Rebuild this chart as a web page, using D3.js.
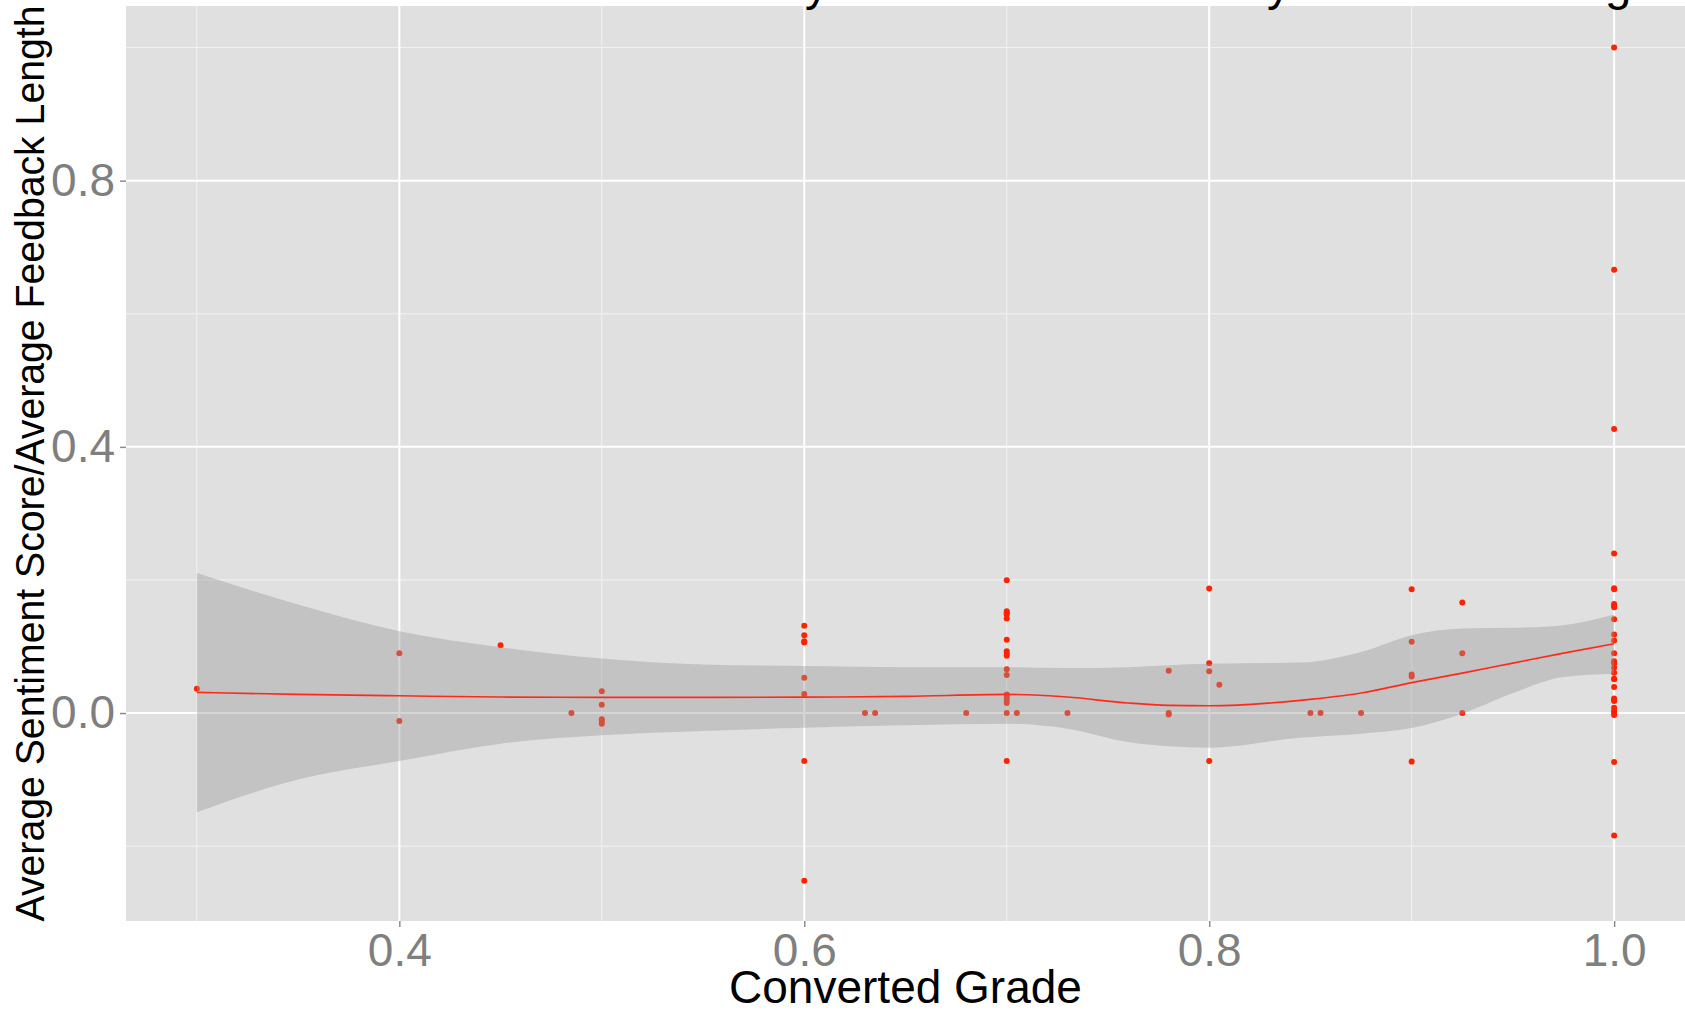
<!DOCTYPE html>
<html>
<head>
<meta charset="utf-8">
<script src="https://cdnjs.cloudflare.com/ajax/libs/d3/7.8.5/d3.min.js"></script>
<style>
  body { margin: 0; background: #fff; }
  text { font-family: "Liberation Sans", Arial, Helvetica, sans-serif; }
</style>
</head>
<body>
<div id="chart"></div>
<script>
// points: converted grade vs average sentiment score / average feedback length
const gradeX = [
  0.3,
  0.4, 0.4,
  0.45, 0.485,
  0.5, 0.5, 0.5, 0.5, 0.5,
  0.6, 0.6, 0.6, 0.6, 0.6, 0.6, 0.6, 0.6,
  0.63, 0.635, 0.68,
  0.7, 0.7, 0.7, 0.7, 0.7, 0.7, 0.7, 0.7, 0.7, 0.7, 0.7, 0.7, 0.7, 0.7, 0.7, 0.7, 0.7,
  0.705, 0.73,
  0.78, 0.78, 0.78,
  0.8, 0.8, 0.8, 0.8, 0.805,
  0.85, 0.855, 0.875,
  0.9, 0.9, 0.9, 0.9, 0.9,
  0.925, 0.925, 0.925,
  1.0, 1.0, 1.0, 1.0, 1.0, 1.0, 1.0, 1.0, 1.0, 1.0, 1.0, 1.0, 1.0, 1.0, 1.0,
  1.0, 1.0, 1.0, 1.0, 1.0, 1.0, 1.0, 1.0, 1.0, 1.0, 1.0, 1.0, 1.0, 1.0
];
const scoreY = [
  0.0366,
  0.090, -0.012,
  0.102, 0,
  0.0326, 0.0126, -0.0095, -0.012, -0.016,
  0.131, 0.117, 0.108, 0.106, 0.053, 0.0286, -0.072, -0.252,
  0, 0, 0,
  0.1995, 0.153, 0.150, 0.148, 0.142, 0.110, 0.093, 0.089, 0.086, 0.066, 0.057, 0.028, 0.024, 0.020, 0.015, 0, -0.072,
  0, 0,
  0.0637, 0, -0.002,
  0.187, 0.075, 0.0627, -0.072, 0.0427,
  0, 0, 0,
  0.186, 0.107, 0.058, 0.055, -0.073,
  0.166, 0.0898, 0,
  1.0, 0.666, 0.427, 0.2396, 0.1875, 0.186, 0.164, 0.162, 0.159, 0.141, 0.118, 0.109, 0.0897, 0.078, 0.0747,
  0.068, 0.0606, 0.0516, 0.0506, 0.039, 0.022, 0.0195, 0.018, 0.008, 0.003, 0, -0.003, -0.0737, -0.184
];

// loess fit with confidence band
const smoothX = [0.3, 0.35, 0.4, 0.45, 0.5, 0.55, 0.6, 0.65, 0.7, 0.73, 0.76, 0.78, 0.8, 0.845, 0.875, 0.9, 0.925, 0.95, 0.975, 1.0];
const smoothFit = [0.031, 0.028, 0.026, 0.024, 0.0236, 0.0236, 0.024, 0.025, 0.028, 0.024, 0.015, 0.0116, 0.011, 0.019, 0.030, 0.0457, 0.060, 0.075, 0.090, 0.104];
const smoothHi = [0.2105, 0.163, 0.123, 0.099, 0.082, 0.073, 0.0707, 0.069, 0.069, 0.0677, 0.069, 0.072, 0.074, 0.0758, 0.0917, 0.117, 0.127, 0.128, 0.132, 0.148];
const smoothLo = [-0.149, -0.100, -0.072, -0.046, -0.0335, -0.027, -0.022, -0.0185, -0.016, -0.0235, -0.0436, -0.050, -0.052, -0.037, -0.031, -0.0225, -0.001, 0.030, 0.054, 0.059];

const xMajor = [0.4, 0.6, 0.8, 1.0];
const xMinor = [0.3, 0.5, 0.7, 0.9];
const yMajor = [0.0, 0.4, 0.8];
const yMinor = [-0.2, 0.2, 0.6, 1.0];

const title = "Mean Sentiment Score by Grade Normalized by Feedback Length";
const xTitle = "Converted Grade";
const yTitle = "Average Sentiment Score/Average Feedback Length";

const W = 1685, H = 1017;
const panel = { left: 126, right: 1685, top: 6, bottom: 921 };

const svg = d3.select("#chart").append("svg")
    .attr("width", W)
    .attr("height", H);

const x = d3.scaleLinear().domain([0.265, 1.035]).range([panel.left, panel.right]);
const y = d3.scaleLinear().domain([-0.3125, 1.0625]).range([panel.bottom, panel.top]);

svg.append("rect")
    .attr("x", panel.left).attr("y", panel.top)
    .attr("width", panel.right - panel.left)
    .attr("height", panel.bottom - panel.top)
    .attr("fill", "#e0e0e0");

const grid = svg.append("g");
grid.selectAll(".vminor").data(xMinor).enter().append("line")
    .attr("x1", d => x(d)).attr("x2", d => x(d))
    .attr("y1", panel.top).attr("y2", panel.bottom)
    .attr("stroke", "#f2f2f2").attr("stroke-width", 1);
grid.selectAll(".hminor").data(yMinor).enter().append("line")
    .attr("y1", d => y(d)).attr("y2", d => y(d))
    .attr("x1", panel.left).attr("x2", panel.right)
    .attr("stroke", "#f2f2f2").attr("stroke-width", 1);
grid.selectAll(".vmajor").data(xMajor).enter().append("line")
    .attr("x1", d => x(d)).attr("x2", d => x(d))
    .attr("y1", panel.top).attr("y2", panel.bottom)
    .attr("stroke", "#ffffff").attr("stroke-width", 2);
grid.selectAll(".hmajor").data(yMajor).enter().append("line")
    .attr("y1", d => y(d)).attr("y2", d => y(d))
    .attr("x1", panel.left).attr("x2", panel.right)
    .attr("stroke", "#ffffff").attr("stroke-width", 2);

// points first, the ribbon is drawn on top of them
svg.append("g").selectAll("circle")
    .data(gradeX.map((g, i) => [g, scoreY[i]]))
    .enter().append("circle")
    .attr("cx", d => x(d[0]))
    .attr("cy", d => y(d[1]))
    .attr("r", 3)
    .attr("fill", "#ff2200");

const band = smoothX.map((g, i) => ({ g, fit: smoothFit[i], hi: smoothHi[i], lo: smoothLo[i] }));

svg.append("path")
    .datum(band)
    .attr("d", d3.area()
        .x(d => x(d.g))
        .y0(d => y(d.lo))
        .y1(d => y(d.hi))
        .curve(d3.curveMonotoneX))
    .attr("fill", "#999999")
    .attr("fill-opacity", 0.4);

svg.append("path")
    .datum(band)
    .attr("d", d3.line()
        .x(d => x(d.g))
        .y(d => y(d.fit))
        .curve(d3.curveMonotoneX))
    .attr("fill", "none")
    .attr("stroke", "#ff2a1a")
    .attr("stroke-width", 1.6);

// axes
const xAxis = svg.append("g")
    .attr("transform", `translate(0,${panel.bottom})`)
    .call(d3.axisBottom(x).tickValues(xMajor).tickFormat(d3.format(".1f")).tickSize(6).tickPadding(6));
const yAxis = svg.append("g")
    .attr("transform", `translate(${panel.left},0)`)
    .call(d3.axisLeft(y).tickValues(yMajor).tickFormat(d3.format(".1f")).tickSize(6).tickPadding(5));

[xAxis, yAxis].forEach(a => {
    a.select(".domain").remove();
    a.selectAll("line").attr("stroke", "#8c8c8c").attr("stroke-width", 1.5);
    a.selectAll("text")
        .attr("fill", "#7f7f7f")
        .style("font-size", "46px")
        .style("font-family", "'Liberation Sans', Arial, Helvetica, sans-serif");
});

svg.append("text")
    .attr("x", (panel.left + panel.right) / 2)
    .attr("y", 1003)
    .attr("text-anchor", "middle")
    .style("font-size", "46px")
    .attr("fill", "#000")
    .text(xTitle);

svg.append("text")
    .attr("transform", `translate(44,${(panel.top + panel.bottom) / 2}) rotate(-90)`)
    .attr("text-anchor", "middle")
    .attr("textLength", 916)
    .attr("lengthAdjust", "spacingAndGlyphs")
    .style("font-size", "41px")
    .attr("fill", "#000")
    .text(yTitle);

// title sits mostly above the top edge, only descenders show
svg.append("text")
    .attr("x", 1671)
    .attr("y", 0)
    .attr("text-anchor", "end")
    .style("font-size", "47.5px")
    .attr("fill", "#000")
    .text(title);
</script>
</body>
</html>
